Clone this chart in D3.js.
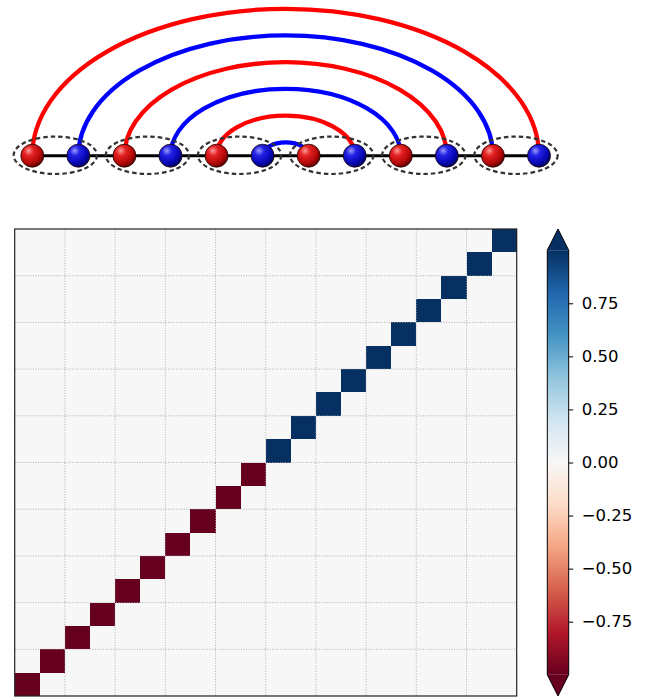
<!DOCTYPE html>
<html lang="en">
<head>
<meta charset="utf-8">
<title>Dimer arcs and correlation matrix</title>
<script src="https://cdn.jsdelivr.net/npm/d3@7"></script>
<style>
  body { margin: 0; background: #fff; }
  svg { display: block; font-family: "DejaVu Sans", sans-serif; }
</style>
</head>
<body>
<script>

// top picture: 12 sites in a chain, colour of each site
var siteColors = ["red", "blue", "red", "blue", "red", "blue",
                  "red", "blue", "red", "blue", "red", "blue"]
// nested bonds drawn as arcs (site i, site j) and their colour
var arcPairs = [[0, 11], [1, 10], [2, 9], [3, 8], [4, 7], [5, 6]]
var arcColors = ["red", "blue", "red", "blue", "red", "blue"]
// dashed groups around neighbouring sites
var dimerPairs = [[0, 1], [2, 3], [4, 5], [6, 7], [8, 9], [10, 11]]

// matrix: only the diagonal is non zero, 20 x 20
var diagValues = [-1, -1, -1, -1, -1, -1, -1, -1, -1, -1,
                   1,  1,  1,  1,  1,  1,  1,  1,  1,  1]
var gridEvery = 2
var cbTicks = [-0.75, -0.5, -0.25, 0, 0.25, 0.5, 0.75]

var width = 647, height = 698

var svg = d3.select("body").append("svg")
  .attr("width", width)
  .attr("height", height)

var defs = svg.append("defs")

// ---------- chain with arcs ----------
var chainY = 155.7
var ballR = 11.5
var sx = d3.scaleLinear().domain([0, siteColors.length - 1]).range([32.3, 539])
var arcRatio = 0.58

var shades = {
  red:  ["#ff9a9a", "#e42222", "#b80808", "#5c0000"],
  blue: ["#9a9aff", "#2222e4", "#0808b8", "#00005c"]
}
Object.keys(shades).forEach(function(k){
  var g = defs.append("radialGradient").attr("id", "ball-" + k)
    .attr("cx", "36%").attr("cy", "32%").attr("r", "72%")
    .attr("fx", "34%").attr("fy", "28%")
  g.append("stop").attr("offset", "0%").attr("stop-color", shades[k][0])
  g.append("stop").attr("offset", "30%").attr("stop-color", shades[k][1])
  g.append("stop").attr("offset", "70%").attr("stop-color", shades[k][2])
  g.append("stop").attr("offset", "100%").attr("stop-color", shades[k][3])
})

var chain = svg.append("g")

chain.selectAll("path.arc").data(arcPairs).enter().append("path")
  .attr("class", "arc")
  .attr("fill", "none")
  .attr("stroke", function(d, i){ return arcColors[i] == "red" ? "#ff0000" : "#0000ff" })
  .attr("stroke-width", 4.3)
  .attr("d", function(d){
    var x1 = sx(d[0]), x2 = sx(d[1])
    var rx = (x2 - x1) / 2
    var ry = rx * arcRatio
    return "M" + x1 + "," + chainY + " A" + rx + "," + ry + " 0 0 1 " + x2 + "," + chainY
  })

chain.append("line")
  .attr("x1", sx(0)).attr("x2", sx(siteColors.length - 1))
  .attr("y1", chainY).attr("y2", chainY)
  .attr("stroke", "#000").attr("stroke-width", 3)

chain.selectAll("circle.site").data(siteColors).enter().append("circle")
  .attr("class", "site")
  .attr("cx", function(d, i){ return sx(i) })
  .attr("cy", chainY)
  .attr("r", ballR)
  .attr("fill", function(d){ return "url(#ball-" + d + ")" })
  .attr("stroke", "#1a0000")
  .attr("stroke-width", 0.8)

chain.selectAll("ellipse.dimer").data(dimerPairs).enter().append("ellipse")
  .attr("class", "dimer")
  .attr("cx", function(d){ return (sx(d[0]) + sx(d[1])) / 2 })
  .attr("cy", chainY - 0.4)
  .attr("rx", 41.7)
  .attr("ry", 18.7)
  .attr("fill", "none")
  .attr("stroke", "#333")
  .attr("stroke-width", 2.2)
  .attr("stroke-dasharray", "4.5,3")

// ---------- matrix ----------
var ax = {left: 14.7, right: 516.7, top: 229, bottom: 696}
var n = diagValues.length
var cells = []
for (var i = 0; i < n; i++) {
  for (var j = 0; j < n; j++) {
    cells.push({row: i, col: j, v: i == j ? diagValues[i] : 0})
  }
}

// RdBu as the 11 brewer colours, linearly blended (like matplotlib)
var rdbu = d3.schemeRdBu[11]
var color = d3.scaleLinear()
  .domain(d3.range(11).map(function(k){ return -1 + k * 0.2 }))
  .range(rdbu)
  .interpolate(d3.interpolateRgb)
  .clamp(true)

var x = d3.scaleBand().domain(d3.range(n)).range([ax.left, ax.right])
var y = d3.scaleBand().domain(d3.range(n)).range([ax.bottom, ax.top])

var mat = svg.append("g")
mat.selectAll("rect.cell").data(cells).enter().append("rect")
  .attr("class", "cell")
  .attr("x", function(d){ return x(d.col) })
  .attr("y", function(d){ return y(d.row) })
  .attr("width", x.bandwidth())
  .attr("height", y.bandwidth())
  .attr("fill", function(d){ return color(d.v) })
  .attr("shape-rendering", "crispEdges")

var gridIdx = d3.range(gridEvery, n, gridEvery)
mat.selectAll("line.gx").data(gridIdx).enter().append("line")
  .attr("x1", function(d){ return x(d) }).attr("x2", function(d){ return x(d) })
  .attr("y1", ax.top).attr("y2", ax.bottom)
  .attr("stroke", "#a8a8a8").attr("stroke-width", 0.9)
  .attr("stroke-dasharray", "1,1.6")
mat.selectAll("line.gy").data(gridIdx).enter().append("line")
  .attr("y1", function(d){ return y(d) + y.bandwidth() }).attr("y2", function(d){ return y(d) + y.bandwidth() })
  .attr("x1", ax.left).attr("x2", ax.right)
  .attr("stroke", "#a8a8a8").attr("stroke-width", 0.9)
  .attr("stroke-dasharray", "1,1.6")

mat.append("rect")
  .attr("x", ax.left).attr("y", ax.top)
  .attr("width", ax.right - ax.left).attr("height", ax.bottom - ax.top)
  .attr("fill", "none").attr("stroke", "#222").attr("stroke-width", 1.2)

// ---------- colour bar ----------
var cb = {left: 547.3, right: 568.7}
var ext = (ax.bottom - ax.top) / 22
var cy = d3.scaleLinear().domain([-1, 1]).range([ax.bottom - ext, ax.top + ext])

var grad = defs.append("linearGradient").attr("id", "cbgrad")
  .attr("x1", 0).attr("y1", 1).attr("x2", 0).attr("y2", 0)
grad.selectAll("stop").data(d3.range(0, 1.0001, 0.1)).enter().append("stop")
  .attr("offset", function(t){ return t })
  .attr("stop-color", function(t){ return color(-1 + 2 * t) })

var cbg = svg.append("g")
var mid = (cb.left + cb.right) / 2
cbg.append("rect")
  .attr("x", cb.left).attr("y", cy(1))
  .attr("width", cb.right - cb.left).attr("height", cy(-1) - cy(1))
  .attr("fill", "url(#cbgrad)")
cbg.append("path")
  .attr("d", "M" + cb.left + "," + cy(1) + " L" + mid + "," + ax.top + " L" + cb.right + "," + cy(1) + "Z")
  .attr("fill", color(1))
cbg.append("path")
  .attr("d", "M" + cb.left + "," + cy(-1) + " L" + mid + "," + ax.bottom + " L" + cb.right + "," + cy(-1) + "Z")
  .attr("fill", color(-1))
cbg.append("path")
  .attr("d", "M" + cb.left + "," + cy(1) + " L" + mid + "," + ax.top + " L" + cb.right + "," + cy(1) +
             " L" + cb.right + "," + cy(-1) + " L" + mid + "," + ax.bottom + " L" + cb.left + "," + cy(-1) + "Z")
  .attr("fill", "none").attr("stroke", "#000").attr("stroke-width", 1)

var cbAxis = d3.axisRight(cy).tickValues(cbTicks)
  .tickSize(4.5).tickPadding(8.5)
  .tickFormat(function(d){ return d3.format(".2f")(d).replace("-", "\u2212") })
var cba = cbg.append("g").attr("transform", "translate(" + cb.right + ",0)").call(cbAxis)
cba.select(".domain").remove()
cba.selectAll("line").attr("stroke", "#000").attr("stroke-width", 1)
cba.selectAll("text").attr("font-size", 16.5).attr("fill", "#000")
  .attr("font-family", "DejaVu Sans, sans-serif")

</script>
</body>
</html>
